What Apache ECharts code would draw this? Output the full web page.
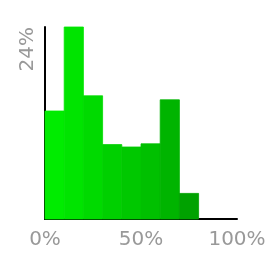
<!DOCTYPE html>
<html>
<head>
<meta charset="utf-8">
<script src="https://cdn.jsdelivr.net/npm/echarts@6/dist/echarts.min.js"></script>
<style>
  html, body { margin: 0; padding: 0; background: #fff; }
  #chart { width: 270px; height: 253px; }
</style>
</head>
<body>
<div id="chart"></div>
<script>
// histogram bins (percent of range) and their share (percent)
const binStarts = [0, 10, 20, 30, 40, 50, 60, 70]
const binWidth = 10
const binValues = [13.5, 24, 15.4, 9.3, 9.0, 9.4, 14.9, 3.2]
const xTicks = [0, 50, 100]
const yTicks = [24]

// bar colours, light to dark green
const palette = ['#00ec00', '#00e400', '#00da00', '#00d000', '#00c800', '#00c000', '#00b400', '#00a200']

const chart = echarts.init(document.getElementById('chart'))

chart.setOption({
  animation: false,
  grid: { left: 45, right: 33, top: 27, bottom: 34 },
  xAxis: {
    type: 'value',
    min: 0,
    max: 100,
    interval: 50,
    axisLine: { lineStyle: { color: '#000', width: 2 } },
    axisTick: { show: false },
    splitLine: { show: false },
    axisLabel: {
      color: '#999',
      fontSize: 20,
      fontFamily: 'DejaVu Sans',
      margin: 11,
      formatter: v => xTicks.includes(v) ? v + '%' : ''
    }
  },
  yAxis: {
    type: 'value',
    min: 0,
    max: 24,
    interval: 24,
    axisLine: { show: true, lineStyle: { color: '#000', width: 2 } },
    axisTick: { show: false },
    splitLine: { show: false },
    axisLabel: {
      color: '#999',
      fontSize: 20,
      fontFamily: 'DejaVu Sans',
      rotate: 90,
      align: 'right',
      verticalAlign: 'bottom',
      margin: 7,
      formatter: v => yTicks.includes(v) ? v + '%' : ''
    }
  },
  series: [{
    type: 'custom',
    data: binValues.map((v, i) => [binStarts[i], binStarts[i] + binWidth, v]),
    renderItem: function (params, api) {
      const p0 = api.coord([api.value(0), 0])
      const p1 = api.coord([api.value(1), api.value(2)])
      const c = palette[params.dataIndex]
      return {
        type: 'rect',
        shape: { x: p0[0], y: p1[1], width: p1[0] - p0[0], height: p0[1] - p1[1] },
        style: { fill: c, stroke: c, lineWidth: 0.8 }
      }
    },
    z: 1
  }]
})
</script>
</body>
</html>
